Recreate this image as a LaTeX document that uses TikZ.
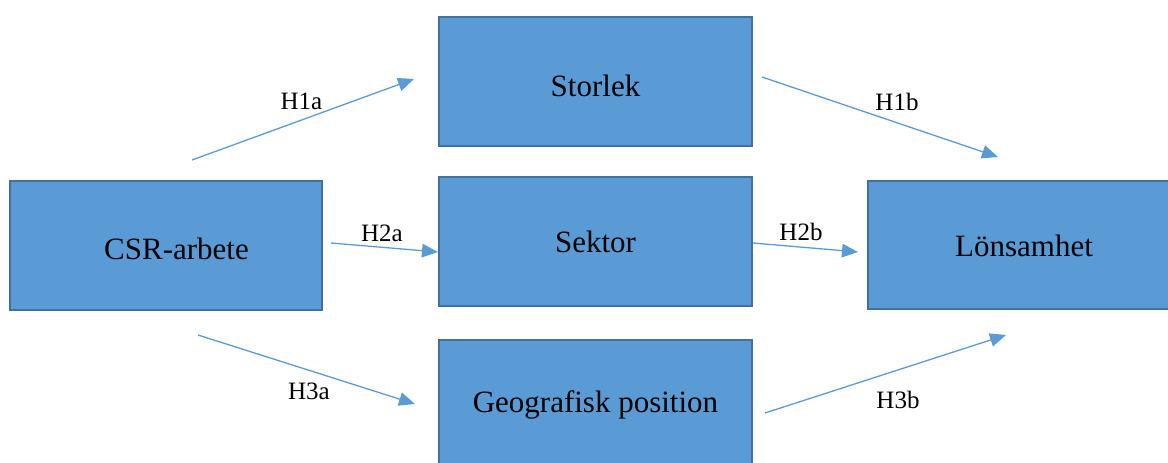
\documentclass[tikz,border=0pt]{standalone}
\usepackage{fontspec}
\setmainfont{Liberation Serif}
\usetikzlibrary{arrows.meta}
\definecolor{boxfill}{HTML}{5B9BD5}
\definecolor{boxline}{HTML}{41719C}
\definecolor{arrowc}{HTML}{5B9BD5}
\begin{document}
\begin{tikzpicture}[x=1pt,y=-1pt,
  box/.style={draw=boxline, line width=2pt, fill=boxfill, minimum width=313pt,
    minimum height=129pt, inner sep=0pt, text height=0pt, text depth=0pt,
    font=\fontsize{31}{31}\selectfont},
  hyp/.style={draw=arrowc, line width=1.3pt, -{Triangle[length=16pt,width=13.5pt]}},
  hlabel/.style={font=\fontsize{25}{25}\selectfont, inner sep=0pt}]
\useasboundingbox (0,0) rectangle (1168,463);
\clip (0,0) rectangle (1168,463);
% boxes
\node[box] (storlek) at (595.5,81) {\raisebox{-15.8pt}{Storlek}};
\node[box] (sektor) at (595.5,241.5) {\raisebox{-10.5pt}{Sektor}};
\node[box, minimum width=312pt] (csr) at (166,245.5) {\hspace*{21pt}\raisebox{-14.3pt}{CSR-arbete}};
\node[box, minimum width=312pt, minimum height=128pt] (lons) at (1024,245) {\raisebox{-11.8pt}{Lönsamhet}};
\node[box] (geo) at (595.5,404.5) {\raisebox{-7.8pt}{Geografisk position}};
% arrow end points
\coordinate (a1s) at (192,160);  \coordinate (a1e) at (414,79);
\coordinate (b1s) at (762,77);   \coordinate (b1e) at (998,157);
\coordinate (a2s) at (331,243);  \coordinate (a2e) at (438,252);
\coordinate (b2s) at (753,243);  \coordinate (b2e) at (858,252);
\coordinate (a3s) at (198,335);  \coordinate (a3e) at (415,404);
\coordinate (b3s) at (765,413);  \coordinate (b3e) at (1006,335);
% arrows
\draw[hyp] (a1s) -- (a1e);
\draw[hyp] (b1s) -- (b1e);
\draw[hyp] (a2s) -- (a2e);
\draw[hyp] (b2s) -- (b2e);
\draw[hyp] (a3s) -- (a3e);
\draw[hyp] (b3s) -- (b3e);
% labels
\node[hlabel] (l1a) at (301.5,101) {H1a};
\node[hlabel] (l1b) at (897,101.5) {H1b};
\node[hlabel] (l2a) at (382,233.5) {H2a};
\node[hlabel] (l2b) at (801,231.5) {H2b};
\node[hlabel] (l3a) at (309,391) {H3a};
\node[hlabel] (l3b) at (898,399.5) {H3b};
\end{tikzpicture}
\end{document}
